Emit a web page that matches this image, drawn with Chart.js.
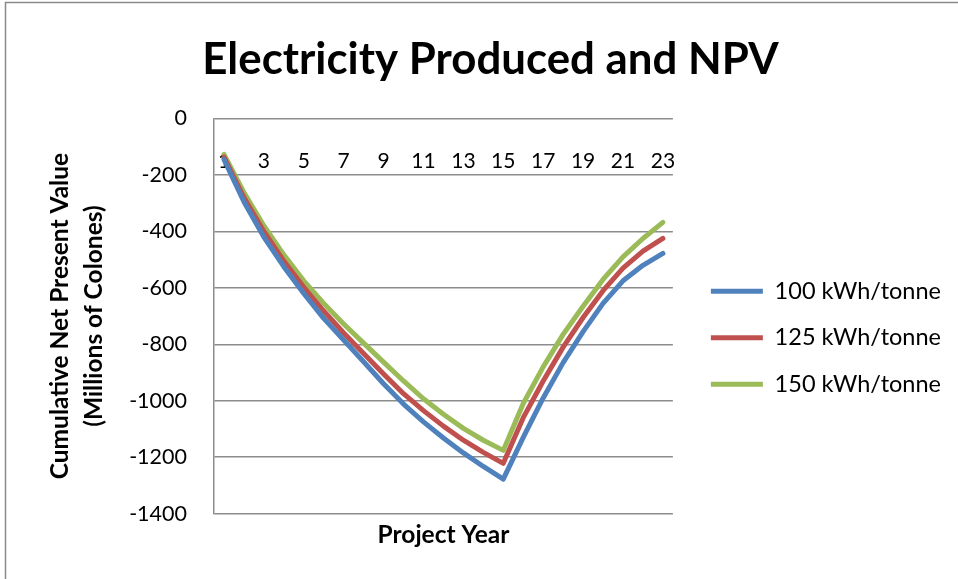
<!DOCTYPE html>
<html><head><meta charset="utf-8">
<script src="https://cdn.jsdelivr.net/npm/chart.js@4.4.0/dist/chart.umd.min.js"></script>
<style>html,body{margin:0;padding:0;background:#fff;overflow:hidden;}</style>
</head><body>
<canvas id="c" width="958" height="579"></canvas>
<script>
const chartTitle = 'Electricity Produced and NPV';
const projectYears = ['1','2','3','4','5','6','7','8','9','10','11','12','13','14','15','16','17','18','19','20','21','22','23'];
const xTickLabels = ['1','3','5','7','9','11','13','15','17','19','21','23'];
const yTickValues = [0,-200,-400,-600,-800,-1000,-1200,-1400];
const seriesNames = ['100 kWh/tonne','125 kWh/tonne','150 kWh/tonne'];
const npv100 = [-145,-295,-420,-525,-620,-708,-785,-862,-940,-1012,-1075,-1132,-1185,-1233,-1278,-1130,-990,-865,-755,-655,-575,-520,-478];
const npv125 = [-137,-280,-400,-505,-598,-682,-760,-833,-905,-975,-1035,-1090,-1140,-1183,-1222,-1060,-930,-810,-705,-610,-530,-470,-425];
const npv150 = [-127,-262,-380,-483,-575,-655,-728,-796,-863,-930,-993,-1048,-1098,-1140,-1176,-1010,-880,-765,-665,-570,-490,-425,-368];
const seriesColors = ['#4F81BD','#C0504D','#9BBB59'];

const frame = {
  id: 'frame',
  beforeDraw(chart) {
    const c = chart.ctx;
    c.save();
    c.fillStyle = '#fff';
    c.fillRect(0, 0, chart.width, chart.height);
    c.strokeStyle = '#8a8a8a';
    c.lineWidth = 1.5;
    c.strokeRect(5.5, 2.5, chart.width + 20, chart.height + 20);
    c.restore();
  }
};

const gridGray = '#8c8c8c';
const font = 'Lato';

const datasets = [npv100, npv125, npv150].map((d, i) => ({
  label: seriesNames[i],
  data: d,
  borderColor: seriesColors[i],
  backgroundColor: seriesColors[i],
  borderWidth: 5,
  borderCapStyle: 'round',
  borderJoinStyle: 'round',
  pointRadius: 0,
  tension: 0,
  fill: false
}));

new Chart(document.getElementById('c'), {
  type: 'line',
  data: { labels: projectYears, datasets },
  plugins: [frame],
  options: {
    responsive: false,
    animation: false,
    devicePixelRatio: 1,
    layout: { padding: { left: 30, right: 7, top: 10, bottom: 20 } },
    plugins: {
      tooltip: { enabled: false },
      title: {
        display: true, text: chartTitle, color: '#000',
        font: { family: font, size: 43.8, weight: 'bold', lineHeight: 1.2 },
        padding: { top: 24, bottom: 32 }
      },
      legend: {
        position: 'right', align: 'center', maxWidth: 400,
        title: { display: true, text: '', padding: { top: 92, bottom: 0 } },
        labels: {
          usePointStyle: true, pointStyle: 'line', pointStyleWidth: 52,
          padding: 23, color: '#000',
          font: { family: font, size: 23.5 }
        }
      }
    },
    scales: {
      x: {
        type: 'category', position: { y: 0 }, offset: true,
        grid: { display: false, drawTicks: false },
        border: { display: false },
        ticks: {
          autoSkip: false, maxRotation: 0, minRotation: 0, padding: 30, color: '#000',
          font: { family: font, size: 21 },
          callback(v, i) { const l = projectYears[i]; return xTickLabels.includes(l) ? l : ''; }
        }
      },
      xTitle: {
        type: 'category', position: 'bottom', offset: true,
        grid: { display: false, drawTicks: false },
        border: { display: false },
        ticks: { display: false },
        title: {
          display: true, text: 'Project Year', color: '#000',
          font: { family: font, size: 24.5, weight: 'bold' },
          padding: { top: 7, bottom: 9 }
        }
      },
      y: {
        min: Math.min(...yTickValues), max: Math.max(...yTickValues),
        grid: { color: gridGray, lineWidth: 1.5, drawTicks: false },
        border: { color: gridGray, width: 1.5 },
        ticks: {
          stepSize: yTickValues[0] - yTickValues[1], padding: 27, color: '#000',
          font: { family: font, size: 21.5 },
          callback(v) { return String(v); }
        },
        title: {
          display: true, text: ['Cumulative Net Present Value', '(Millions of Colones)'], color: '#000',
          font: { family: font, size: 24.5, weight: 'bold', lineHeight: 1.35 },
          padding: { top: 14, bottom: 10 }
        },
        afterFit(s) { s.width = 184; }
      },
      yR: {
        position: 'right', display: true,
        grid: { display: false, drawTicks: false },
        border: { display: false },
        ticks: { display: false },
        afterFit(s) { s.width = 15; }
      }
    }
  }
});
</script>
</body></html>
